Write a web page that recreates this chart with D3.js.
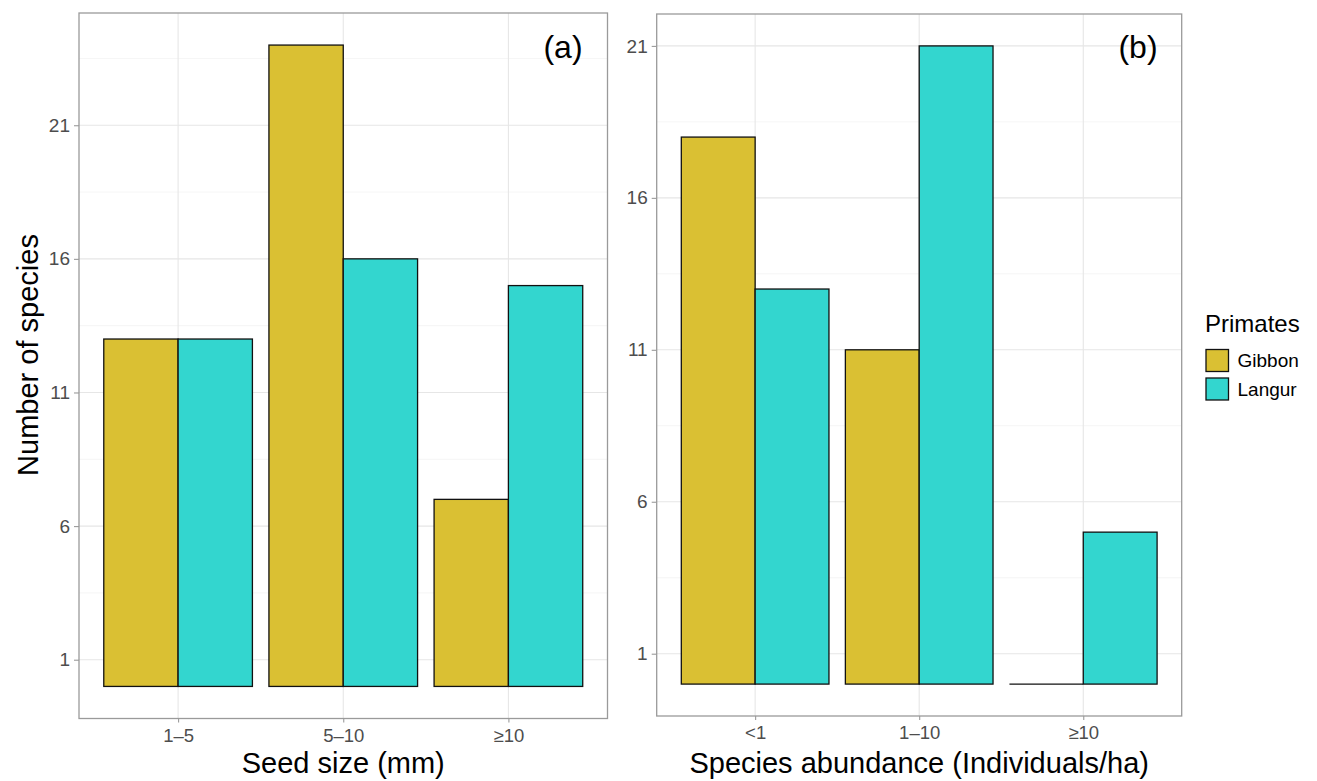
<!DOCTYPE html>
<html><head><meta charset="utf-8">
<script src="https://cdn.jsdelivr.net/npm/d3@7"></script>
<style>body{margin:0;background:#fff}svg{display:block;font-family:"Liberation Sans",Arial,sans-serif}</style>
</head><body>
<svg id="c" width="1317" height="781"></svg>
<script>
const seriesNames = ["Gibbon", "Langur"];
const seedCategories = ["1–5", "5–10", "≥10"];
const seedGibbon = [13, 24, 7];
const seedLangur = [13, 16, 15];
const abundCategories = ["<1", "1–10", "≥10"];
const abundGibbon = [18, 11, 0];
const abundLangur = [13, 21, 5];
const yTicks = [1, 6, 11, 16, 21];
const colors = {Gibbon: "#DAC033", Langur: "#33D6CF"};

const svg = d3.select("#c");

function panel(opts) {
  const {x0, x1, y0, y1, cats, gib, lan, ydom, minor, label, xtitle} = opts;
  const g = svg.append("g");
  const x = d3.scaleLinear().domain([0.4, 3.6]).range([x0, x1]);
  const y = d3.scaleLinear().domain(ydom).range([y1, y0]);
  g.selectAll(".mn").data(minor).join("line")
    .attr("x1", x0).attr("x2", x1).attr("y1", d => y(d)).attr("y2", d => y(d))
    .attr("stroke", "#f2f2f2").attr("stroke-width", 0.8);
  g.selectAll(".mj").data(yTicks).join("line")
    .attr("x1", x0).attr("x2", x1).attr("y1", d => y(d)).attr("y2", d => y(d))
    .attr("stroke", "#e6e6e6").attr("stroke-width", 1.1);
  g.selectAll(".mx").data(cats).join("line")
    .attr("y1", y0).attr("y2", y1).attr("x1", (d, i) => x(i + 1)).attr("x2", (d, i) => x(i + 1))
    .attr("stroke", "#e6e6e6").attr("stroke-width", 1.1);
  const bw = 0.45;
  const data = [];
  cats.forEach((c, i) => {
    data.push({s: "Gibbon", i: i, v: gib[i]});
    data.push({s: "Langur", i: i, v: lan[i]});
  });
  const bx = d => x(d.i + 1 + (d.s === "Gibbon" ? -bw : 0));
  const bwpx = x(bw) - x(0);
  g.selectAll(".bar").data(data.filter(d => d.v > 0)).join("rect")
    .attr("x", bx)
    .attr("width", bwpx)
    .attr("y", d => y(d.v))
    .attr("height", d => y(0) - y(d.v))
    .attr("fill", d => colors[d.s])
    .attr("stroke", "#111").attr("stroke-width", 1.3);
  g.selectAll(".zero").data(data.filter(d => d.v === 0)).join("line")
    .attr("x1", bx).attr("x2", d => bx(d) + bwpx)
    .attr("y1", y(0)).attr("y2", y(0))
    .attr("stroke", "#111").attr("stroke-width", 1.3);
  g.append("rect").attr("x", x0).attr("y", y0).attr("width", x1 - x0).attr("height", y1 - y0)
    .attr("fill", "none").attr("stroke", "#9a9a9a").attr("stroke-width", 1.3);
  const ya = g.append("g").attr("transform", `translate(${x0},0)`)
    .call(d3.axisLeft(y).tickValues(yTicks).tickSize(5).tickPadding(4));
  ya.select(".domain").remove();
  ya.selectAll("line").attr("stroke", "#9a9a9a").attr("stroke-width", 1.1);
  ya.selectAll("text").attr("fill", "#4d4d4d").style("font-size", "19px").style("font-family", "Liberation Sans, Arial, sans-serif");
  const xa = g.append("g").attr("transform", `translate(0,${y1})`)
    .call(d3.axisBottom(x).tickValues([1, 2, 3]).tickFormat((d, i) => cats[i]).tickSize(4).tickPadding(6));
  xa.select(".domain").remove();
  xa.selectAll("line").attr("stroke", "#9a9a9a").attr("stroke-width", 1.1);
  xa.selectAll("text").attr("fill", "#4d4d4d").style("font-size", "18.5px").style("font-family", "Liberation Sans, Arial, sans-serif");
  g.append("text").attr("x", opts.lx).attr("y", 58).attr("text-anchor", "middle")
    .style("font-size", "32px").attr("fill", "#000").text(label);
  g.append("text").attr("x", (x0 + x1) / 2).attr("y", 773).attr("text-anchor", "middle")
    .style("font-size", "29px").attr("fill", "#000").text(xtitle);
}

panel({x0: 79, x1: 607.5, y0: 13, y1: 718.5, cats: seedCategories, gib: seedGibbon, lan: seedLangur,
  ydom: [-1.2, 25.2], minor: [3.5, 8.5, 13.5, 18.5, 23.5], label: "(a)", lx: 563, xtitle: "Seed size (mm)"});
panel({x0: 656.7, x1: 1181.7, y0: 14, y1: 716, cats: abundCategories, gib: abundGibbon, lan: abundLangur,
  ydom: [-1.05, 22.05], minor: [3.5, 8.5, 13.5, 18.5], label: "(b)", lx: 1138, xtitle: "Species abundance (Individuals/ha)"});

svg.append("text").attr("transform", "translate(38,355) rotate(-90)").attr("text-anchor", "middle")
  .style("font-size", "29px").attr("fill", "#000").text("Number of species");

const lg = svg.append("g");
lg.append("text").attr("x", 1205).attr("y", 332).style("font-size", "24px").attr("fill", "#000").text("Primates");
seriesNames.forEach((s, i) => {
  lg.append("rect").attr("x", 1206).attr("y", 349.5 + i * 28.5).attr("width", 22.5).attr("height", 22)
    .attr("fill", colors[s]).attr("stroke", "#111").attr("stroke-width", 1.3);
  lg.append("text").attr("x", 1237.5).attr("y", 360.5 + i * 28.5).attr("dy", "0.35em")
    .style("font-size", "19px").attr("fill", "#000").text(s);
});
</script>
</body></html>
